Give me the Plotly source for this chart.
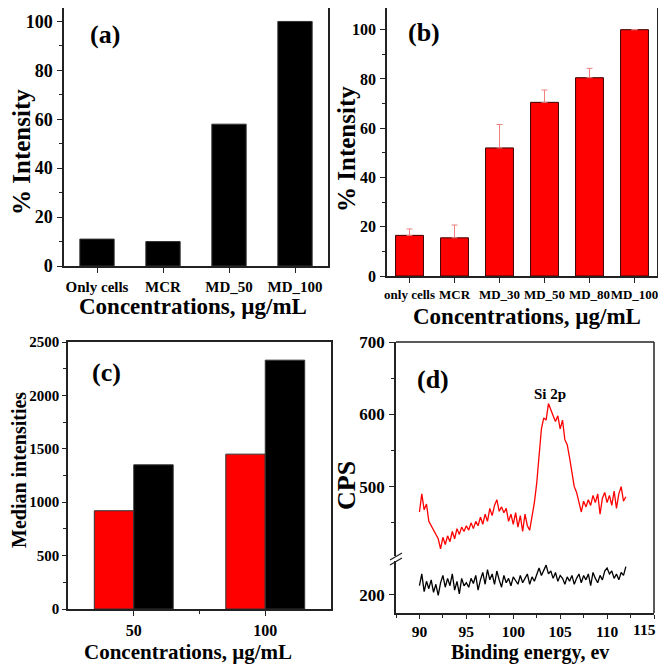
import plotly.graph_objects as go

# --- datos ---
cat_a = ['Only cells', 'MCR', 'MD_50', 'MD_100']
val_a = [11, 10, 58, 100]

cat_b = ['only cells', 'MCR', 'MD_30', 'MD_50', 'MD_80', 'MD_100']
val_b = [16.5, 15.5, 52, 70.5, 80.5, 100]
err_b = [2.6, 5.2, 9.5, 5.0, 3.8, 0]

conc_c = [50, 100]
red_c = [920, 1450]
black_c = [1350, 2330]

ticks_d = [90, 95, 100, 105, 110, 115]
ev = [90 + 0.25 * i for i in range(89)]
cps_red = [465, 490, 468, 476, 452, 446, 438, 432, 428, 414, 430, 420, 432, 424, 438, 428,
           442, 434, 444, 438, 446, 440, 450, 442, 452, 446, 458, 448, 462, 452, 470, 460,
           474, 482, 466, 472, 464, 470, 452, 462, 448, 464, 444, 460, 438, 462, 446, 440,
           460, 478, 505, 540, 580, 595, 592, 615, 605, 598, 590, 598, 580, 592, 565, 558,
           540, 522, 500, 492, 478, 465, 480, 472, 482, 474, 488, 478, 490, 462, 484, 492,
           478, 488, 474, 494, 470, 490, 500, 480, 486]
cps_black = [212, 228, 204, 218, 208, 220, 203, 214, 199, 216, 226, 210, 222, 212, 228, 206,
             218, 201, 222, 212, 216, 210, 222, 215, 226, 206, 220, 230, 214, 234, 220, 228,
             214, 232, 220, 210, 226, 216, 222, 212, 224, 218, 214, 226, 216, 222, 228, 214,
             224, 218, 226, 236, 226, 234, 240, 228, 232, 222, 230, 218, 226, 222, 214, 224,
             218, 226, 214, 222, 228, 216, 226, 220, 228, 212, 230, 222, 216, 226, 220, 232,
             236, 228, 232, 222, 228, 220, 230, 226, 238]

# el body de la página tiene 8 px de margen: la figura cabe en la ventana sin barras de scroll
OFF = 8
W, H = 666 - 2 * OFF, 672 - 2 * OFF
FONT = 'Liberation Serif, Times New Roman, serif'
LINE = '#222222'


def px(p):
    return (p - OFF) / W


def py(p):
    return 1 - (p - OFF) / H


def bfont(size, color='black'):
    return dict(family=FONT, size=size, color=color, weight='bold')


fig = go.Figure()

# (a)
fig.add_trace(go.Bar(x=cat_a, y=val_a, width=0.52, marker=dict(color='black', line=dict(color='#333', width=1)),
                     xaxis='x', yaxis='y'))
# (b)
fig.add_trace(go.Bar(x=cat_b, y=val_b, width=0.62,
                     marker=dict(color='#ff0000', line=dict(color='#3a0000', width=1)),
                     error_y=dict(type='data', symmetric=False, array=err_b, arrayminus=[0] * len(err_b),
                                  color='#f08080', thickness=1, width=3),
                     xaxis='x2', yaxis='y2'))
# (c)
fig.add_trace(go.Bar(x=conc_c, y=red_c, width=15, offset=-15,
                     marker=dict(color='#ff0000', line=dict(color='#333', width=1)), xaxis='x3', yaxis='y3'))
fig.add_trace(go.Bar(x=conc_c, y=black_c, width=15, offset=0,
                     marker=dict(color='black', line=dict(color='#333', width=1)), xaxis='x3', yaxis='y3'))
# (d)
fig.add_trace(go.Scatter(x=ev, y=cps_red, mode='lines', line=dict(color='#ff0000', width=1.3),
                         xaxis='x4', yaxis='y4'))
fig.add_trace(go.Scatter(x=ev, y=cps_black, mode='lines', line=dict(color='black', width=1.3),
                         xaxis='x4', yaxis='y5'))

ax = dict(showline=True, linecolor=LINE, linewidth=1.5, mirror=True, ticks='outside', ticklen=5,
          tickcolor=LINE, tickwidth=1.2, showgrid=False, zeroline=False, fixedrange=True,
          automargin=False, ticklabelstandoff=1, ticklabeloverflow='allow')
mnr = dict(ticks='outside', ticklen=3, tickcolor=LINE)

# la última etiqueta de (d) se escribe aparte, alineada al borde
ticktext_d = [str(t) for t in ticks_d[:-1]] + ['']

split = 559
fig.update_layout(
    width=W, height=H, margin=dict(l=0, r=0, t=0, b=0),
    paper_bgcolor='white', plot_bgcolor='white', showlegend=False,
    xaxis=dict(ax, domain=[px(64), px(328)], anchor='y', tickfont=bfont(15), range=[-0.5, 3.5], tickangle=0),
    yaxis=dict(ax, domain=[py(266), py(8)], anchor='x', tickfont=bfont(18), range=[0, 105.5],
               dtick=20, minor=dict(mnr, dtick=10)),
    xaxis2=dict(ax, domain=[px(387), px(657)], anchor='y2', tickfont=bfont(13), range=[-0.5, 5.5],
                tickangle=0),
    yaxis2=dict(ax, domain=[py(276), py(8)], anchor='x2', tickfont=bfont(16), range=[0, 108.8],
                dtick=20, minor=dict(mnr, dtick=10)),
    xaxis3=dict(ax, domain=[px(68), px(331)], anchor='y3', tickfont=bfont(16), range=[25, 125],
                tickvals=[50, 100], tickangle=0, minor=dict(mnr, tickvals=[75])),
    yaxis3=dict(ax, domain=[py(609), py(342)], anchor='x3', tickfont=bfont(15), range=[0, 2500],
                dtick=500, ticklen=4, ticklabelstandoff=0, minor=dict(mnr, dtick=250)),
    xaxis4=dict(ax, mirror=False, domain=[px(396), px(654)], anchor='y5', tickfont=bfont(15.5),
                range=[87.5, 115], tickvals=ticks_d, ticktext=ticktext_d, ticklen=4, ticklabelstandoff=0,
                tickangle=0, minor=dict(mnr, dtick=2.5)),
    yaxis4=dict(ax, mirror=False, domain=[py(split), py(342)], anchor='x4', tickfont=bfont(17),
                range=[400, 700], tickvals=[500, 600, 700], minor=dict(mnr, tickvals=[450, 550, 650])),
    yaxis5=dict(ax, mirror=False, domain=[py(613), py(split)], anchor='x4', tickfont=bfont(17),
                range=[175, 248.3], tickvals=[200]),
)

# marco de (d) y rotura del eje
shapes = [
    dict(type='line', xref='paper', yref='paper', x0=px(396), x1=px(654), y0=py(342), y1=py(342),
         line=dict(color=LINE, width=1.5)),
    dict(type='line', xref='paper', yref='paper', x0=px(654), x1=px(654), y0=py(342), y1=py(613),
         line=dict(color=LINE, width=1.5)),
    dict(type='rect', xref='paper', yref='paper', x0=px(393), x1=px(399), y0=py(561), y1=py(556),
         fillcolor='white', line=dict(width=0)),
    dict(type='line', xref='paper', yref='paper', x0=px(390), x1=px(402), y0=py(560), y1=py(553),
         line=dict(color=LINE, width=1.3)),
    dict(type='line', xref='paper', yref='paper', x0=px(390), x1=px(402), y0=py(565), y1=py(558),
         line=dict(color=LINE, width=1.3)),
]
fig.update_layout(shapes=shapes)


def label(text, x, y, size, angle=0, xanchor='center'):
    fig.add_annotation(text=text, x=px(x), y=py(y), xref='paper', yref='paper', showarrow=False,
                       xanchor=xanchor, yanchor='middle', textangle=angle, font=bfont(size))


label('(a)', 105, 35, 26)
label('(b)', 424, 33, 26)
label('(c)', 106, 372, 26)
label('(d)', 433, 380, 26)
label('Si 2p', 550, 394, 15)
label(str(ticks_d[-1]), 658, 629, 15.5, xanchor='right')

label('% Intensity', 22, 152, 25, -90)
label('% Intensity', 346, 149, 25, -90)
label('Median intensities', 19, 470, 20, -90)
label('CPS', 346, 486, 26, -90)

label('Concentrations, µg/mL', 193, 306, 23)
label('Concentrations, µg/mL', 527, 316, 23)
label('Concentrations, µg/mL', 188, 652, 21)
label('Binding energy, ev', 530, 652, 20)

fig.write_html("out.html")
